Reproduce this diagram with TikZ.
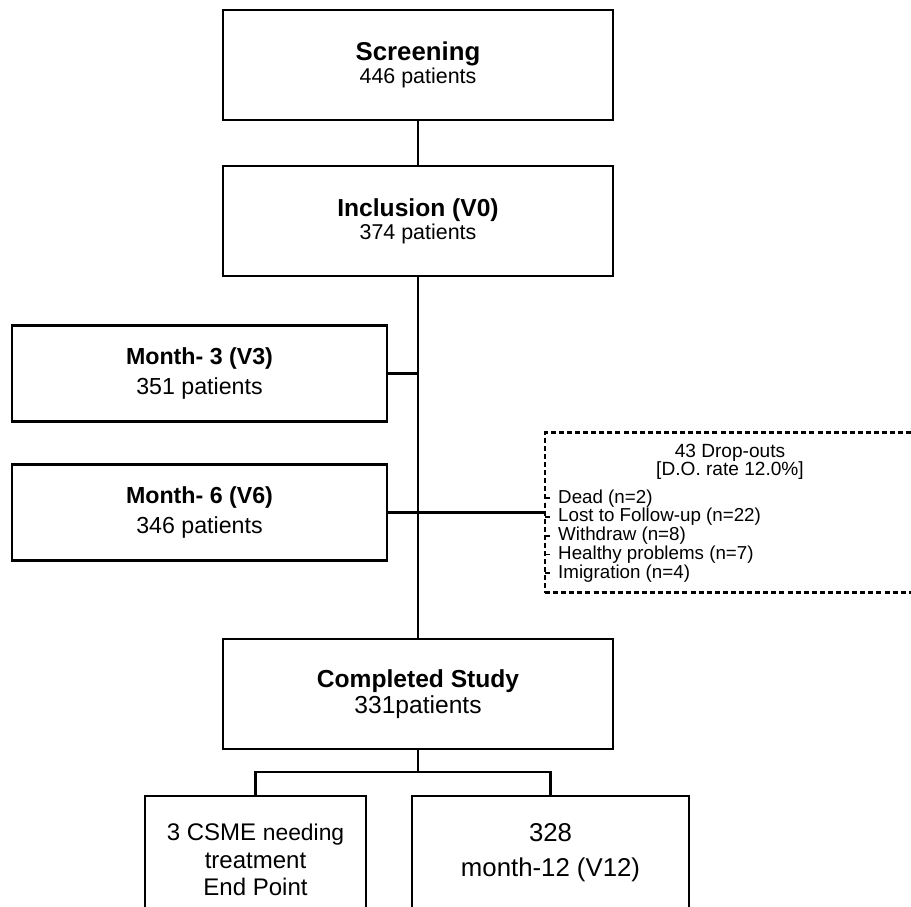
\documentclass[tikz,border=0pt]{standalone}
\usepackage{fontspec}
\setmainfont{Liberation Sans}
\usetikzlibrary{positioning}

\begin{document}
\begin{tikzpicture}[
    box/.style={draw, line width=2pt, outer sep=0pt, align=center},
    mainbox/.style={box, minimum width=11.7cm, minimum height=3.3cm},
    visitbox/.style={box, minimum width=11.25cm, minimum height=2.88cm, font=\fontsize{19.8}{25.6}\selectfont},
    dropbox/.style={draw, line width=1.9pt, dash pattern=on 4.3pt off 2.6pt, minimum width=11.1cm, minimum height=4.8cm, outer sep=0pt},
    dropitem/.style={inner xsep=0.24cm, inner ysep=0pt, text height=0.42cm, text depth=0.129cm, font=\fontsize{16}{15.6}\selectfont},
    link/.style={line width=1.9pt},
    node distance=1.38cm
    ]
    \useasboundingbox (0,0) rectangle (27.33,-27.18);
    \clip (0,0) rectangle (27.33,-27.18);

    %Nodes
    \node[mainbox, font=\fontsize{18.3}{19.6}\selectfont] (screen) at (12.54,-1.95) {{\fontsize{22}{19.6}\selectfont\bfseries Screening}\\446 patients};
    \node[mainbox, font=\fontsize{18.3}{19.6}\selectfont] (incl) [below=of screen] {{\fontsize{21}{19.6}\selectfont\bfseries Inclusion (V0)}\\374 patients};

    \node[visitbox] (m3) at (5.985,-11.205) {{\bfseries Month- 3 (V3)}\\351 patients};
    \node[visitbox] (m6) [below=1.29cm of m3] {{\bfseries Month- 6 (V6)}\\346 patients};

    \node[dropbox] (drop) [right=4.74cm of m6] {};
    \node[font=\fontsize{16.3}{15.6}\selectfont, align=center, inner sep=0pt, anchor=north] (droptitle) [below=0.33cm of drop.north] {43 Drop-outs\\{[}D.O. rate 12.0\%{]}};
    \node[dropitem, anchor=base west] (d1) at (16.5,-15.09) {Dead (n=2)};
    \node[dropitem] (d2) [below right=0pt and 0pt of d1.south west] {Lost to Follow-up (n=22)};
    \node[dropitem] (d3) [below right=0pt and 0pt of d2.south west] {Withdraw (n=8)};
    \node[dropitem] (d4) [below right=0pt and 0pt of d3.south west] {Healthy problems (n=7)};
    \node[dropitem] (d5) [below right=0pt and 0pt of d4.south west] {Imigration (n=4)};

    \node[mainbox, font=\fontsize{21}{22.2}\selectfont] (done) [below=10.89cm of incl] {{\bfseries Completed Study}\\331patients};
    \coordinate[below=0.69cm of done] (split);

    \node[box, minimum width=6.63cm, minimum height=3.84cm, anchor=north, font=\fontsize{20.5}{23.5}\selectfont] (csme) at (7.665,-23.88) {3 CSME {\fontsize{19.5}{23.5}\selectfont needing}\\treatment\\End Point};
    \node[box, minimum width=8.31cm, minimum height=3.4cm, anchor=north, font=\fontsize{22}{30}\selectfont] (final) at (16.515,-23.88) {328\\month-12 (V12)};

    %Lines
    \draw[link] (screen) -- (incl);
    \draw[line width=2.4pt] (incl.south) -- (done.north);
    \draw[link] (m3.east) -- (m3.east -| incl.south);
    \draw[link] (m6.east) -- (drop.west);
    \draw[link] (done.south) -- (split);
    \draw[link] (csme.north) |- (split) -| (final.north);

    \draw[line width=1.6pt] (d1.west -| drop.west) -- (d1.west);
    \draw[line width=1.6pt] (d2.west -| drop.west) -- (d2.west);
    \draw[line width=1.6pt] (d3.west -| drop.west) -- (d3.west);
    \draw[line width=1.6pt] (d4.west -| drop.west) -- (d4.west);
    \draw[line width=1.6pt] (d5.west -| drop.west) -- (d5.west);

\end{tikzpicture}
\end{document}
